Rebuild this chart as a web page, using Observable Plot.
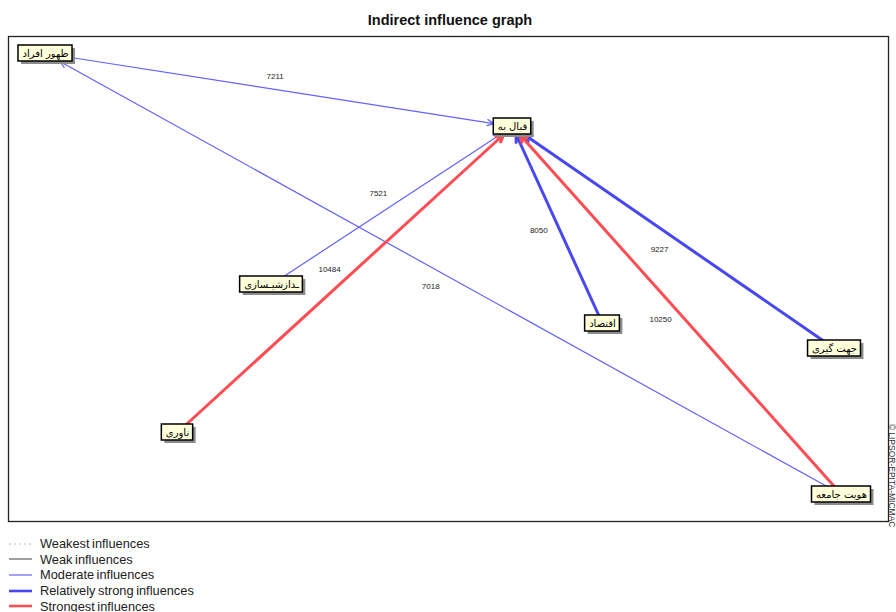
<!DOCTYPE html>
<html><head><meta charset="utf-8">
<script src="https://cdn.jsdelivr.net/npm/d3@7"></script>
<script src="https://cdn.jsdelivr.net/npm/@observablehq/plot@0.6"></script>
<style>
body{margin:0;background:#fff;width:896px;height:612px;overflow:hidden;font-family:"Liberation Sans",Arial,sans-serif;position:relative}
#title{height:30px;position:relative}
#title span{position:absolute;left:0;width:900px;text-align:center;top:12px;font-weight:bold;font-size:14.5px;line-height:16px;color:#111}
#chart svg{display:block}
#legend{position:absolute;left:0;top:536px}
.row{height:15.6px;display:flex;align-items:center;font-size:12.8px;color:#222;word-spacing:-1px}
.row svg{margin-left:9px;margin-right:8px;display:block}
</style></head><body>
<div id="title"><span>Indirect influence graph</span></div>
<div id="chart"></div>
<div id="legend"></div>
<script>
// ---- data ----
const nodeNames = ["ظهور افراد", "قبال به", "ـدازشیـسازی", "اقتصاد", "جهت گیری", "ناوری", "هویت جامعه"];
const nodeX = [45, 512, 271, 602, 834, 177, 841];
const nodeY = [53, 126, 284, 323, 348, 432, 494];
const edgeSource = [0, 2, 5, 3, 6, 4, 6];
const edgeTarget = [1, 1, 1, 1, 1, 1, 0];
const edgeValue = [7211, 7521, 10484, 8050, 10250, 9227, 7018];
const edgeClass = ["moderate", "moderate", "strongest", "strong", "strongest", "strong", "moderate"];
const legendClasses = ["weakest", "weak", "moderate", "strong", "strongest"];
const legendLabels = ["Weakest influences", "Weak influences", "Moderate influences", "Relatively strong influences", "Strongest influences"];
const copyright = "© LIPSOR-EPITA-MICMAC";

// ---- styles ----
const styles = {
  weakest: {stroke: "#b8b8b8", width: 1, dash: "2,3"},
  weak: {stroke: "#808080", width: 1.5},
  moderate: {stroke: "#6262ff", width: 1.2},
  strong: {stroke: "#4848f2", width: 3},
  strongest: {stroke: "#ff4d54", width: 3}
};

const ctx = document.createElement("canvas").getContext("2d");
ctx.font = "10px 'DejaVu Sans'";
const nodes = nodeNames.map((name, i) => {
  const w = ctx.measureText(name).width;
  return {name, x: nodeX[i], y: nodeY[i], hw: w / 2 + 4, hh: 8};
});

function clip(from, to, box) {
  const dx = to.x - from.x, dy = to.y - from.y;
  const t = Math.min(box.hw / Math.abs(dx || 1e-9), box.hh / Math.abs(dy || 1e-9));
  return [to.x - dx * t, to.y - dy * t];
}

const edges = edgeSource.map((s, i) => {
  const a = nodes[s], b = nodes[edgeTarget[i]];
  const [sx, sy] = clip(b, a, a);
  const [tx, ty] = clip(a, b, b);
  const L = Math.hypot(b.x - a.x, b.y - a.y);
  const ux = (b.x - a.x) / L, uy = (b.y - a.y) / L;
  const off = 14;
  return {
    sx, sy, tx, ty, value: edgeValue[i], cls: edgeClass[i],
    lx: (a.x + b.x) / 2 + uy * off,
    ly: (a.y + b.y) / 2 - ux * off
  };
});

const arrowMarks = ["moderate", "strong", "strongest"].map(c =>
  Plot.arrow(edges.filter(e => e.cls === c), {
    x1: "sx", y1: "sy", x2: "tx", y2: "ty",
    stroke: styles[c].stroke, strokeWidth: styles[c].width,
    headLength: c === "moderate" ? 9 : 4, headAngle: 50
  })
);

const chart = Plot.plot({
  width: 896, height: 500,
  marginLeft: 8, marginRight: 8, marginTop: 6, marginBottom: 9,
  x: {domain: [0, 896], range: [0, 896], axis: null},
  y: {domain: [30, 530], range: [0, 500], axis: null},
  marks: [
    Plot.frame({stroke: "#222", strokeWidth: 1.3}),
    ...arrowMarks,
    Plot.text(edges, {x: "lx", y: "ly", text: d => String(d.value), fontSize: 8, fontFamily: "Liberation Sans, Arial, sans-serif", fill: "#222", dx: -6}),
    Plot.rect(nodes, {x1: d => d.x - d.hw, x2: d => d.x + d.hw, y1: d => d.y - d.hh, y2: d => d.y + d.hh, fill: "#8c8c8c", dx: 3, dy: 3}),
    Plot.rect(nodes, {x1: d => d.x - d.hw, x2: d => d.x + d.hw, y1: d => d.y - d.hh, y2: d => d.y + d.hh, fill: "#ffffdc", stroke: "#000", strokeWidth: 1.5}),
    Plot.text(nodes, {x: "x", y: "y", text: "name", fontSize: 10, fontFamily: "DejaVu Sans", fill: "#000"}),
    Plot.text([copyright], {frameAnchor: "bottom-right", text: d => d, rotate: 90, textAnchor: "end", lineAnchor: "middle", dx: 3, dy: 6, fontSize: 8.5, fill: "#333", fontFamily: "Liberation Sans, Arial, sans-serif"})
  ]
});
document.getElementById("chart").appendChild(chart);

// ---- legend ----
const legend = document.getElementById("legend");
legendClasses.forEach((c, i) => {
  const s = styles[c];
  const row = document.createElement("div");
  row.className = "row";
  row.innerHTML = `<svg width="23" height="6"><line x1="0" x2="23" y1="3" y2="3" stroke="${s.stroke}" stroke-width="${c === 'moderate' ? 1.2 : s.width === 3 ? 2.6 : s.width}" ${s.dash ? `stroke-dasharray="${s.dash}"` : ""}/></svg><span>${legendLabels[i]}</span>`;
  legend.appendChild(row);
});
</script>
</body></html>
